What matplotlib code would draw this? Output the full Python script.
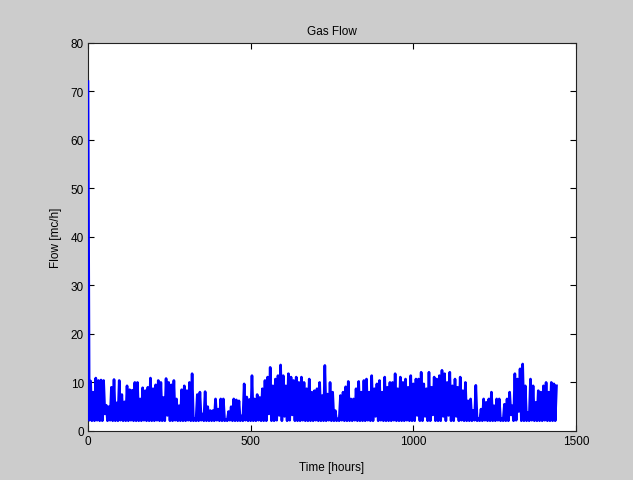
import numpy as np
import matplotlib
matplotlib.use('Agg')
import matplotlib.pyplot as plt

plt.rcParams['font.family'] = ['Liberation Sans', 'DejaVu Sans']

# 流量峰值（每8小时读一个）与谷值（峰值之间，偏移4小时）
peaks = [72, 10.3, 8, 10.9, 10.4, 10.5, 10.4, 5.3, 5, 9,
         10.6, 5.8, 10.4, 7.5, 6, 9.3, 8.5, 8.4, 10, 10,
         6.6, 8.9, 8.3, 9, 10.9, 8.7, 9.5, 10.4, 10, 6.9,
         10.8, 10, 9.5, 10.4, 6.6, 5.2, 8.5, 9.3, 8.3, 10,
         11.8, 2.6, 7.5, 8, 3.5, 8.1, 5, 4.2, 4.2, 6.6,
         4.5, 6.6, 6.6, 2.4, 4, 5, 6.6, 6.4, 6.2, 3.1,
         9.7, 7, 6.5, 11.4, 6.6, 7.5, 6.9, 8.7, 10.4, 11.1,
         13.1, 9.3, 10.7, 11.4, 13.6, 11.4, 9.3, 11.8, 11.1, 10.4,
         11.1, 10, 11.1, 10, 8.7, 10.7, 8, 8.3, 8.7, 10,
         7.3, 13.5, 7.6, 10, 8, 4.2, 2.5, 7.3, 8, 9.1,
         10.2, 6.6, 6.6, 8.7, 10.2, 8, 10.4, 10.7, 8, 11.4,
         8.7, 9.7, 10.4, 8, 11.1, 9, 10, 10, 11.8, 8.7,
         11.1, 10, 10.7, 9, 11.4, 9.7, 10.7, 10.7, 12.1, 9.7,
         8.7, 12.1, 9, 11.1, 10.7, 11.4, 12.5, 11.8, 10, 12.1,
         9.3, 10.7, 9, 11.1, 8.3, 10, 6.2, 6.6, 4.2, 9.4,
         2.5, 4.5, 6.6, 5.9, 6.6, 8, 5.2, 6.6, 6.6, 2.5,
         5.5, 6.6, 8, 5.2, 11.8, 10.7, 12.8, 13.8, 9.3, 3.8,
         10.7, 9.3, 5.9, 8.3, 8, 9.3, 10, 8, 10, 9.7,
         9.3]
troughs = [2.2, 2.1, 2.1, 2.2, 2.1, 2.1, 3.5, 2.1, 2.2, 2.1,
           2.1, 2.1, 2.2, 2.1, 2.1, 2.1, 2.2, 2.1, 2.1, 2.1,
           2.1, 2.2, 2.1, 2.1, 2.1, 2.1, 2.2, 2.1, 2.1, 2.1,
           3.2, 2.1, 2.1, 2.2, 2.1, 2.1, 2.1, 2.1, 2.2, 2.1,
           2.1, 2.1, 2.1, 2.2, 2.1, 2.1, 2.1, 2.1, 2.1, 2.2,
           2.1, 2.1, 2.1, 2.1, 2.2, 2.1, 2.1, 2.1, 2.1, 2.1,
           2.2, 2.1, 2.1, 2.1, 2.1, 2.2, 2.1, 2.1, 2.1, 3.5,
           2.1, 2.1, 2.2, 3.2, 2.1, 3.0, 2.1, 2.2, 3.3, 2.1,
           2.1, 2.1, 2.2, 2.1, 2.1, 2.1, 2.1, 2.2, 2.1, 2.1,
           2.1, 2.1, 2.2, 2.1, 2.1, 2.1, 2.1, 2.2, 2.1, 2.1,
           2.1, 2.1, 2.2, 2.1, 2.1, 2.1, 2.1, 2.2, 2.1, 2.1,
           3.0, 2.1, 2.2, 2.1, 2.1, 2.1, 2.1, 2.2, 2.1, 2.1,
           2.1, 2.1, 2.2, 2.1, 2.1, 2.1, 3.2, 2.1, 2.1, 3.0,
           2.1, 2.1, 3.3, 2.1, 2.1, 2.1, 3.0, 2.1, 3.2, 2.1,
           2.1, 3.0, 2.1, 2.2, 2.1, 2.1, 2.1, 2.1, 2.2, 2.1,
           2.1, 2.1, 2.2, 2.1, 2.1, 2.1, 2.1, 2.2, 2.1, 2.1,
           2.1, 2.1, 3.3, 2.1, 2.2, 4.0, 2.1, 2.1, 2.1, 2.1,
           2.2, 2.1, 2.1, 2.1, 2.1, 2.2, 2.1, 2.1, 2.1, 2.1]
step_hours = 4

flow = np.empty(len(peaks) + len(troughs))
flow[0::2] = peaks
flow[1::2] = troughs
hours = np.arange(len(flow)) * step_hours

fig = plt.figure(figsize=(6.33, 4.81), dpi=100, facecolor='#cccccc')
ax = fig.add_axes([0.139, 0.102, 0.771, 0.807])
ax.plot(hours, flow, color='#0000ff', linewidth=1.9, zorder=3)

ax.set_xlim(0, 1500)
ax.set_ylim(0, 80)
ax.set_xticks([0, 500, 1000, 1500])
ax.set_yticks(range(0, 81, 10))
ax.tick_params(direction='in', top=True, right=True, length=4,
               width=0.8, labelsize=8.5, pad=3)
for s in ax.spines.values():
    s.set_linewidth(0.8)
    s.set_color('#222222')

ax.set_title('Gas Flow', fontsize=8.5, pad=6)
ax.set_xlabel('Time [hours]', fontsize=8.5, labelpad=10)
ax.set_ylabel('Flow [mc/h]', fontsize=8.5, labelpad=6)

plt.savefig('out.png', dpi=100, facecolor=fig.get_facecolor())
